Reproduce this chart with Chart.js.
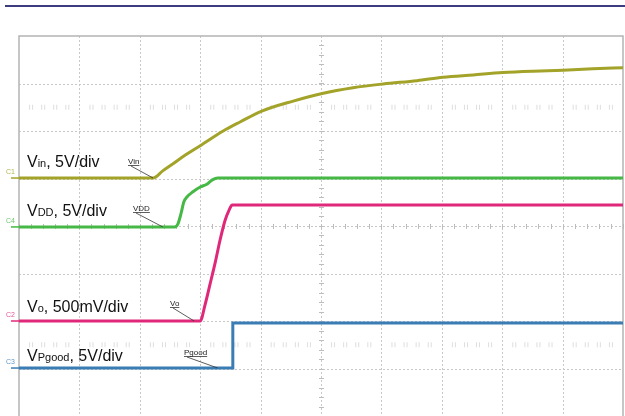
<!DOCTYPE html>
<html><head><meta charset="utf-8">
<script src="https://cdn.jsdelivr.net/npm/chart.js@4.4.1/dist/chart.umd.min.js"></script>
<style>html,body{margin:0;padding:0;background:#fff;}#wrap{position:relative;width:625px;height:416px;}</style>
</head><body><div id="wrap"><canvas id="c" width="625" height="416"></canvas></div>
<script>
// time axis in divisions (0..10), amplitude in divisions (0..8)
const vinX = [0, 2.22, 2.38, 2.55, 2.76, 3.0, 3.38, 3.66, 4.02, 4.54, 5.02, 5.53, 6.03, 6.59, 7.02, 7.52, 8.01, 8.51, 9.01, 9.5, 10];
const vinY = [5.01, 5.01, 5.16, 5.31, 5.50, 5.69, 6.0, 6.19, 6.42, 6.63, 6.79, 6.91, 6.99, 7.06, 7.13, 7.18, 7.23, 7.26, 7.28, 7.31, 7.33];
const vddX = [0, 2.58, 2.63, 2.68, 2.73, 2.78, 2.88, 3.0, 3.11, 3.2, 3.29, 10];
const vddY = [3.98, 3.98, 4.04, 4.25, 4.51, 4.61, 4.72, 4.82, 4.88, 4.97, 5.01, 5.01];
const voX = [0, 3.0, 3.08, 3.16, 3.25, 3.33, 3.41, 3.48, 3.53, 10];
const voY = [2.0, 2.0, 2.34, 2.76, 3.24, 3.71, 4.11, 4.34, 4.44, 4.44];
const pgX = [0, 3.54, 3.54, 10];
const pgY = [1.01, 1.01, 1.96, 1.96];
const divX = 10, divY = 8;
const labels = [
  {main:'V', sub:'in', rest:', 5V/div'},
  {main:'V', sub:'DD', rest:', 5V/div'},
  {main:'V', sub:'o', rest:', 500mV/div'},
  {main:'V', sub:'Pgood', rest:', 5V/div'}
];
const tags = ['Vin', 'VDD', 'Vo', 'Pgood'];
const chNames = ['C1', 'C4', 'C2', 'C3'];

const colors = ['#a3a329', '#45b845', '#e0287a', '#3a7db4'];
const pts = (xs, ys) => xs.map((x, i) => ({x, y: ys[i]}));

const gridPlugin = {
  id: 'scopeGrid',
  beforeDatasetsDraw(chart) {
    const {ctx, chartArea: a, scales: {x, y}} = chart;
    ctx.save();
    // faint mid-division marks
    ctx.strokeStyle = '#dedede'; ctx.lineWidth = 1;
    [6.5, 1.5].forEach(v => {
      const py = y.getPixelForValue(v);
      for (let i = 0; i < divX; i++) for (let k = 1; k < 5; k++) {
        const px = x.getPixelForValue(i + k / 5);
        ctx.beginPath(); ctx.moveTo(px - 1.5, py - 2.5); ctx.lineTo(px - 1.5, py + 2.5);
        ctx.moveTo(px + 1.5, py - 2.5); ctx.lineTo(px + 1.5, py + 2.5); ctx.stroke();
      }
    });
    // dotted grid
    ctx.strokeStyle = '#c8c8c8'; ctx.lineWidth = 1; ctx.setLineDash([2, 2]);
    for (let i = 1; i < divX; i++) {
      const px = Math.round(x.getPixelForValue(i)) + 0.5;
      ctx.beginPath(); ctx.moveTo(px, a.top); ctx.lineTo(px, a.bottom); ctx.stroke();
    }
    for (let j = 1; j < divY; j++) {
      const py = Math.round(y.getPixelForValue(j)) + 0.5;
      ctx.beginPath(); ctx.moveTo(a.left, py); ctx.lineTo(a.right, py); ctx.stroke();
    }
    ctx.setLineDash([]);
    // center axes minor ticks
    ctx.strokeStyle = '#bdbdbd';
    const cx = Math.round(x.getPixelForValue(divX / 2)) + 0.5;
    const cy = Math.round(y.getPixelForValue(divY / 2)) + 0.5;
    for (let v = 0; v <= divY; v += 0.2) {
      const py = Math.round(y.getPixelForValue(v)) + 0.5;
      ctx.beginPath(); ctx.moveTo(cx - 2.5, py); ctx.lineTo(cx + 2.5, py); ctx.stroke();
    }
    for (let v = 0; v <= divX; v += 0.2) {
      const px = Math.round(x.getPixelForValue(v)) + 0.5;
      ctx.beginPath(); ctx.moveTo(px, cy - 2.5); ctx.lineTo(px, cy + 2.5); ctx.stroke();
    }
    // border
    ctx.strokeStyle = '#b4b4b4'; ctx.lineWidth = 1.5;
    ctx.beginPath();
    ctx.moveTo(a.left, a.bottom); ctx.lineTo(a.left, a.top); ctx.lineTo(a.right, a.top); ctx.lineTo(a.right, a.bottom);
    ctx.stroke();
    // top rule
    ctx.strokeStyle = '#3b3b7e'; ctx.lineWidth = 2;
    ctx.beginPath(); ctx.moveTo(5, 6); ctx.lineTo(625, 6); ctx.stroke();
    ctx.restore();
  },
  afterDatasetsDraw(chart) {
    const {ctx, scales: {x, y}} = chart;
    ctx.save();
    // channel labels with big text
    const base = [166.5, 216, 312, 360.5];
    labels.forEach((l, i) => {
      let px = 27;
      ctx.fillStyle = '#111'; ctx.textBaseline = 'alphabetic';
      ctx.font = '16px "Liberation Sans", Arial, sans-serif';
      ctx.fillText(l.main, px, base[i]); px += ctx.measureText(l.main).width;
      ctx.font = '11px "Liberation Sans", Arial, sans-serif';
      ctx.fillText(l.sub, px, base[i]); px += ctx.measureText(l.sub).width;
      ctx.font = '16px "Liberation Sans", Arial, sans-serif';
      ctx.fillText(l.rest, px, base[i]);
    });
    // small tags with leader lines to traces
    const tagPos = [[128, 164], [133, 211], [170, 306], [184, 355]];
    const ends = [[vinX[1], vinY[1]], [vddX[1] - 0.2, vddY[1]], [voX[1] - 0.1, voY[1]], [pgX[1] - 0.25, pgY[1]]];
    ctx.font = '8px "Liberation Sans", Arial, sans-serif';
    ctx.strokeStyle = '#333'; ctx.fillStyle = '#222'; ctx.lineWidth = 0.8;
    tags.forEach((t, i) => {
      const [tx, ty] = tagPos[i];
      ctx.fillText(t, tx, ty);
      const w = ctx.measureText(t).width;
      ctx.beginPath(); ctx.moveTo(tx, ty + 1.5); ctx.lineTo(tx + w, ty + 1.5); ctx.stroke();
      ctx.beginPath(); ctx.moveTo(tx + 3, ty + 2);
      ctx.lineTo(x.getPixelForValue(ends[i][0]), y.getPixelForValue(ends[i][1])); ctx.stroke();
    });
    // channel markers at left edge
    const lv = [vinY[0], vddY[0], voY[0], pgY[0]];
    ctx.font = '7px "Liberation Sans", Arial, sans-serif';
    lv.forEach((v, i) => {
      const py = y.getPixelForValue(v);
      ctx.fillStyle = colors[i]; ctx.globalAlpha = 0.8;
      ctx.fillText(chNames[i], 6, py - 4);
      ctx.globalAlpha = 1;
      ctx.strokeStyle = colors[i]; ctx.lineWidth = 1.5;
      ctx.beginPath(); ctx.moveTo(11, py); ctx.lineTo(20, py); ctx.stroke();
    });
    ctx.restore();
  }
};

const ds = (xs, ys, c, smooth) => ({data: pts(xs, ys), borderColor: c, borderWidth: 3, pointRadius: 0, showLine: true,
  tension: smooth ? 0.4 : 0, cubicInterpolationMode: smooth ? 'monotone' : 'default', fill: false});

new Chart(document.getElementById('c'), {
  type: 'scatter',
  data: {datasets: [ds(vinX, vinY, colors[0], true), ds(vddX, vddY, colors[1], true), ds(voX, voY, colors[2], true), ds(pgX, pgY, colors[3], false)]},
  options: {
    responsive: false, animation: false, events: [],
    layout: {padding: {left: 19, right: 2, top: 36, bottom: 0}},
    plugins: {legend: {display: false}, tooltip: {enabled: false}},
    scales: {
      x: {type: 'linear', min: 0, max: divX, display: false},
      y: {type: 'linear', min: 0, max: divY, display: false}
    }
  },
  plugins: [gridPlugin]
});
</script></body></html>
